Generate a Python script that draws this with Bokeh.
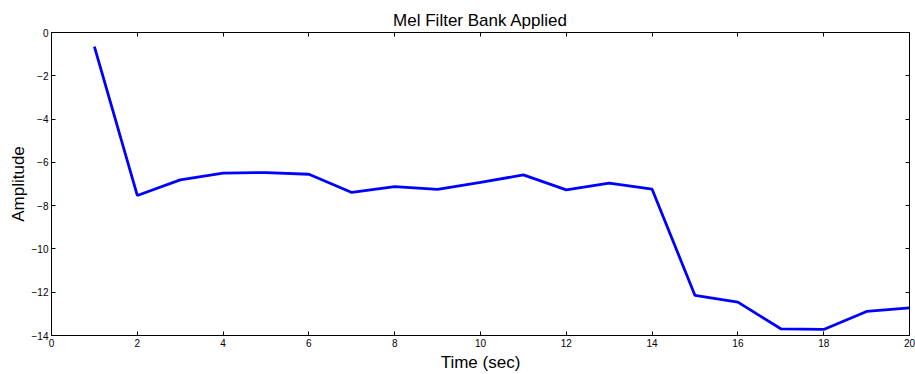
from bokeh.plotting import figure
from bokeh.models import Range1d, LinearAxis, FixedTicker
from bokeh.embed import file_html
from bokeh.resources import INLINE

# Data
frames = list(range(1, 21))
amplitude = [-0.65, -7.53, -6.81, -6.50, -6.47, -6.55, -7.39, -7.12, -7.25, -6.93,
             -6.58, -7.27, -6.96, -7.24, -12.15, -12.46, -13.69, -13.72, -12.89, -12.72]
x_ticks = list(range(0, 21, 2))
y_ticks = list(range(-14, 1, 2))

FONT = "Liberation Sans"

p = figure(width=915, height=374, output_backend="svg", toolbar_location=None,
           x_range=Range1d(0, 20), y_range=Range1d(-14, 0),
           min_border_left=51, min_border_right=6, min_border_top=32, min_border_bottom=39,
           title="Mel Filter Bank Applied")
p.title.align = "center"
p.title.text_font = FONT
p.title.text_font_size = "17px"
p.title.text_font_style = "normal"
p.title.text_color = "#000000"
p.title.standoff = 6

p.line(frames, amplitude, line_color="#0000ff", line_width=2.8)

p.xgrid.visible = False
p.ygrid.visible = False
p.outline_line_color = "#000000"
p.outline_line_width = 1
p.background_fill_color = "#ffffff"
p.border_fill_color = "#ffffff"

xa = p.xaxis[0]
xa.ticker = FixedTicker(ticks=x_ticks)
xa.axis_label = "Time (sec)"
ya = p.yaxis[0]
ya.ticker = FixedTicker(ticks=y_ticks)
ya.axis_label = "Amplitude"
for ax in (xa, ya):
    ax.major_tick_in = 4
    ax.major_tick_out = 0
    ax.minor_tick_line_color = None
    ax.axis_line_color = "#000000"
    ax.major_tick_line_color = "#000000"
    ax.major_label_text_font = FONT
    ax.major_label_text_font_size = "10px"
    ax.major_label_text_color = "#000000"
    ax.major_label_standoff = 3
    ax.axis_label_text_font = FONT
    ax.axis_label_text_font_size = "17px"
    ax.axis_label_text_font_style = "normal"
    ax.axis_label_text_color = "#000000"
    ax.axis_label_standoff = 3
ya.axis_label_standoff = 1

top = LinearAxis(ticker=FixedTicker(ticks=x_ticks))
right = LinearAxis(ticker=FixedTicker(ticks=y_ticks))
for ax in (top, right):
    ax.major_tick_in = 4
    ax.major_tick_out = 0
    ax.minor_tick_line_color = None
    ax.axis_line_color = "#000000"
    ax.major_tick_line_color = "#000000"
    ax.major_label_text_font_size = "0px"
    ax.major_label_text_alpha = 0
    ax.major_label_standoff = 0
p.add_layout(top, "above")
p.add_layout(right, "right")

open("out.html", "w").write(file_html(p, INLINE))
